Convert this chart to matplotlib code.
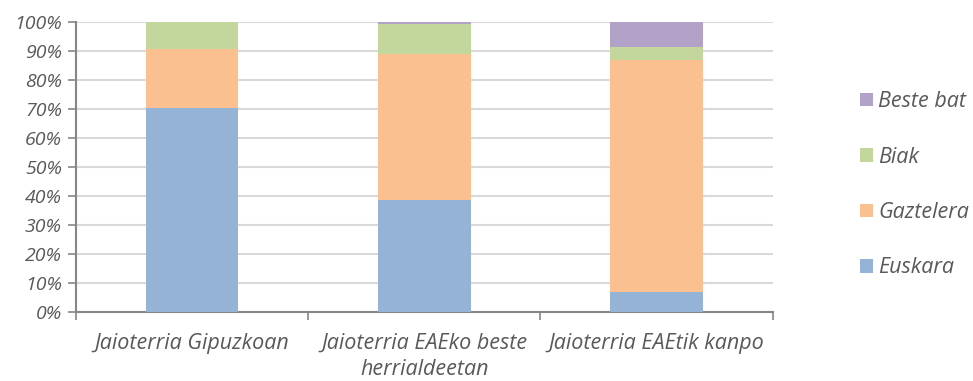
import matplotlib.pyplot as plt
import numpy as np
from matplotlib.ticker import PercentFormatter
import matplotlib.patches as patches

categories = ["Jaioterria Gipuzkoan", "Jaioterria EAEko beste\nherrialdeetan", "Jaioterria EAEtik kanpo"]
series = ["Euskara", "Gaztelera", "Biak", "Beste bat"]
euskara = [70.3, 38.6, 7.0]
gaztelera = [20.3, 50.5, 79.8]
biak = [9.4, 10.3, 4.6]
beste_bat = [0.0, 0.6, 8.6]
colors = ['#95B3D7', '#FAC090', '#C3D69B', '#B3A2C7']

plt.rcParams['font.family'] = ['Open Sans', 'DejaVu Sans']
txt = '#595959'

fig = plt.figure(figsize=(9.73, 3.81), dpi=100)
ax = fig.add_axes([0.078, 0.181, 0.716, 0.761])

x = np.arange(len(categories))
bottom = np.zeros(len(categories))
for vals, c in zip([euskara, gaztelera, biak, beste_bat], colors):
    ax.bar(x, vals, 0.4, bottom=bottom, color=c, zorder=3)
    bottom += np.array(vals)

ax.set_xlim(-0.5, 2.5)
ax.set_ylim(0, 100)
ax.set_yticks(np.arange(0, 101, 10))
ax.yaxis.set_major_formatter(PercentFormatter(decimals=0))
ax.grid(axis='y', color='#D9D9D9', lw=1.5, zorder=0)

ax.set_xticks(x)
ax.set_xticklabels(categories, style='italic', fontsize=15.5, color=txt, linespacing=1.3)
ax.set_xticks([-0.5, 0.5, 1.5, 2.5], minor=True)
ax.tick_params(axis='x', which='major', length=0, pad=15)
ax.tick_params(axis='x', which='minor', length=6, width=1.2, color='#868686', direction='out')
ax.tick_params(axis='y', length=6, width=1.2, color='#868686', labelsize=14, labelcolor=txt, pad=4)
for lab in ax.get_yticklabels():
    lab.set_style('italic')

for s in ['top', 'right']:
    ax.spines[s].set_visible(False)
for s in ['left', 'bottom']:
    ax.spines[s].set_color('#868686')
    ax.spines[s].set_linewidth(1.5)

handles = [patches.Rectangle((0, 0), 1, 1, facecolor=c) for c in colors]
leg = fig.legend(handles[::-1], series[::-1], loc='center left', bbox_to_anchor=(0.884, 0.515),
                 frameon=False, labelspacing=1.6, handlelength=0.6, handleheight=0.6,
                 handletextpad=0.25, borderpad=0, borderaxespad=0,
                 prop={'style': 'italic', 'size': 15.5})
for t in leg.get_texts():
    t.set_color(txt)

fig.savefig('out.png', dpi=100)
